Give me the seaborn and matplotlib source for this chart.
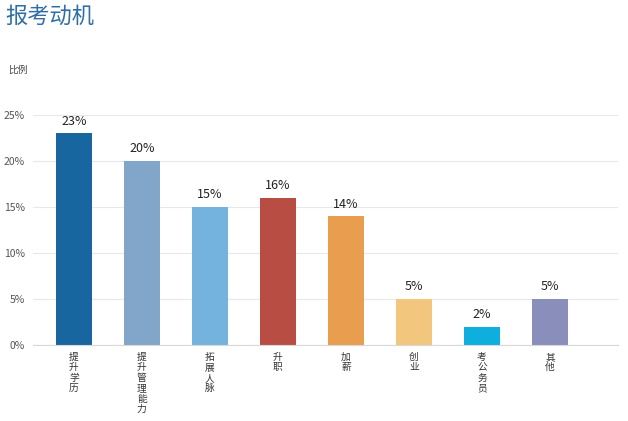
import matplotlib
matplotlib.use("Agg")
import matplotlib.pyplot as plt
import seaborn as sns
import pandas as pd

categories = ["提升学历", "提升管理能力", "拓展人脉", "升职", "加薪", "创业", "考公务员", "其他"]
values = [23, 20, 15, 16, 14, 5, 2, 5]
colors = ["#17669f", "#82a6c9", "#74b3dd", "#b84e43", "#e89d4f", "#f2c77d", "#0eaedf", "#8a8eba"]
yticks = [0, 5, 10, 15, 20, 25]

sns.set_theme(style="white")
plt.rcParams['font.family'] = ['Noto Sans CJK SC', 'DejaVu Sans']

df = pd.DataFrame({"cat": categories, "val": values})

fig = plt.figure(figsize=(6.28, 4.21), dpi=100)
ax = fig.add_axes([33/628, (421-345)/421, (618-33)/628, (345-115)/421])

sns.barplot(data=df, x="cat", y="val", hue="cat", palette=colors, legend=False,
            width=0.53, ax=ax, saturation=1, linewidth=0)

ax.set_xlim(-0.6, 8.0)
ax.set_ylim(0, 25)
ax.set_yticks(yticks)
ax.set_yticklabels([f"{v}%" for v in yticks], fontsize=7.5, color="#555555")
ax.yaxis.grid(True, color="#e8e8e8", linewidth=0.8)
ax.set_axisbelow(True)
for s in ["top", "right", "left"]:
    ax.spines[s].set_visible(False)
ax.spines["bottom"].set_color("#d8d8d8")
ax.spines["bottom"].set_linewidth(0.8)
ax.tick_params(axis="y", length=0, pad=6)
ax.tick_params(axis="x", length=0, pad=5)
ax.set_xticks(range(len(categories)))
ax.set_xticklabels(["\n".join(c) for c in categories], fontsize=7, color="#333333",
                   linespacing=1.05, va="top")
ax.set_xlabel("")
ax.set_ylabel("")

for i, v in enumerate(values):
    ax.text(i, v + 0.6, f"{v}%", ha="center", va="bottom", fontsize=9,
            color="#222222", clip_on=False)

fig.text(5/628, 1 - 16/421, "报考动机", fontsize=16, color="#2f6fa5",
         ha="left", va="center")
fig.text(8/628, 1 - 70/421, "比例", fontsize=7, color="#444444",
         ha="left", va="center")

fig.savefig("out.png", dpi=100)
